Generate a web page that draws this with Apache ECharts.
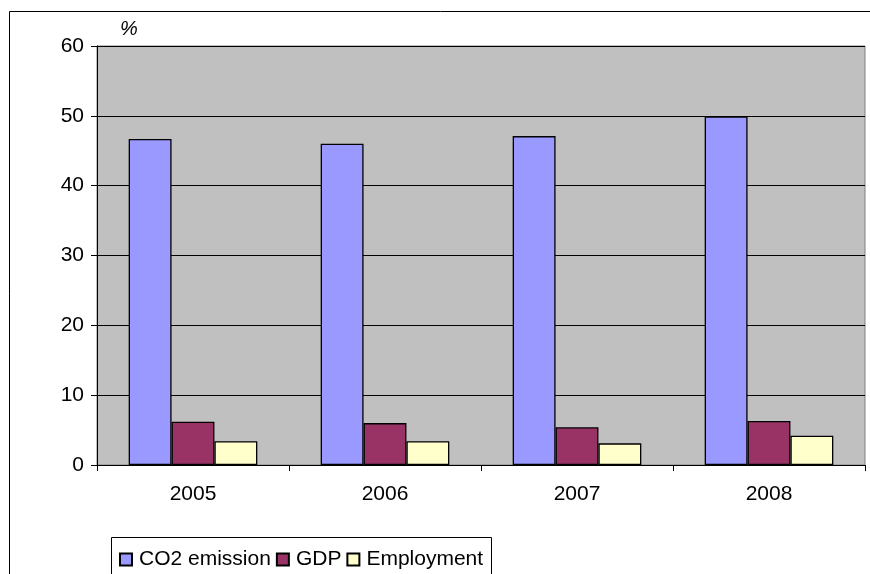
<!DOCTYPE html>
<html lang="en">
<head>
    <meta charset="UTF-8">
    <title>CO2 emission, GDP, Employment</title>
    <script src="https://cdn.jsdelivr.net/npm/echarts@6/dist/echarts.min.js"></script>
    <style>
        html, body { margin: 0; padding: 0; background: #fff; }
        #main { width: 870px; height: 574px; }
    </style>
</head>
<body>
<div id="main"></div>
<script>
    // data
    var years = ['2005', '2006', '2007', '2008'];
    var co2 = [46.7, 46.0, 47.1, 49.9];
    var gdp = [6.2, 6.0, 5.4, 6.3];
    var employment = [3.4, 3.4, 3.1, 4.2];

    var font = 'Liberation Sans, Arial, sans-serif';
    var myChart = echarts.init(document.getElementById('main'));

    function bar(name, data, color) {
        return {
            name: name,
            type: 'bar',
            data: data,
            barGap: '0%',
            barCategoryGap: '33%',
            itemStyle: { color: color, borderColor: '#000', borderWidth: 1.3 }
        };
    }

    var option = {
        animation: false,
        textStyle: { fontFamily: font },
        graphic: [
            // outer chart frame (runs off the right/bottom edge)
            { type: 'rect', shape: { x: 9.5, y: 11.5, width: 1000, height: 1000 },
              style: { fill: 'none', stroke: '#000', lineWidth: 1 }, z: -1 },
            { type: 'text', left: 120, top: 19,
              style: { text: '%', fontSize: 20, fontStyle: 'italic', fontFamily: font, fill: '#000' } },
            // legend frame
            { type: 'rect', shape: { x: 111.5, y: 537.5, width: 380, height: 100 },
              style: { fill: '#fff', stroke: '#000', lineWidth: 1 }, z: -1 }
        ],
        grid: {
            left: 97, right: 5, top: 46, bottom: 109,
            show: true, backgroundColor: '#c0c0c0', borderColor: '#808080', borderWidth: 1
        },
        legend: {
            left: 114, top: 544,
            icon: 'rect', itemWidth: 12, itemHeight: 12, itemGap: 5,
            textStyle: { fontSize: 21, color: '#000', fontFamily: font, padding: [0, 0, 0, 2] },
            data: ['CO2 emission', 'GDP', 'Employment']
        },
        xAxis: {
            type: 'category',
            data: years,
            axisLine: { lineStyle: { color: '#000', width: 1 } },
            axisTick: { show: true, length: 6, lineStyle: { color: '#000' } },
            axisLabel: { fontSize: 21, color: '#000', margin: 19, fontFamily: font }
        },
        yAxis: {
            type: 'value',
            min: 0, max: 60, interval: 10,
            axisLine: { show: true, lineStyle: { color: '#000', width: 1 } },
            axisTick: { show: true, length: 6, lineStyle: { color: '#000' } },
            axisLabel: { fontSize: 21, color: '#000', margin: 13, fontFamily: font },
            splitLine: { lineStyle: { color: '#000', width: 1 } }
        },
        series: [
            bar('CO2 emission', co2, '#9999ff'),
            bar('GDP', gdp, '#993366'),
            bar('Employment', employment, '#ffffcc')
        ]
    };

    myChart.setOption(option);
</script>
</body>
</html>
